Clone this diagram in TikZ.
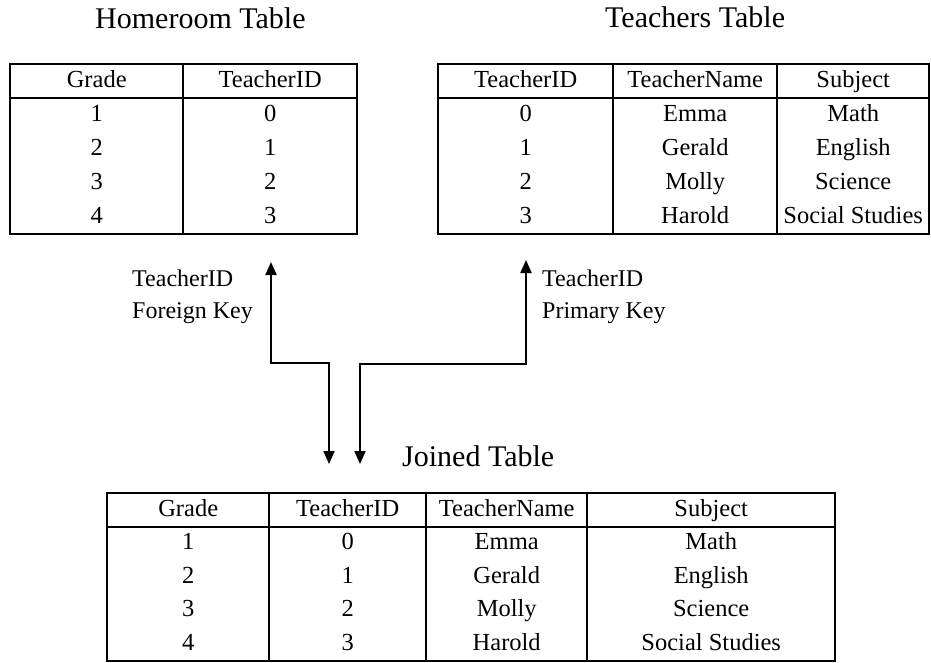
\documentclass[tikz,border=0pt]{standalone}
\usepackage{fontspec}
\setmainfont{Liberation Serif}
\usepackage{tikz}
\usetikzlibrary{arrows.meta,matrix,positioning}

\begin{document}
\begin{tikzpicture}[x=1pt,y=-1pt,>={Triangle[length=13pt,width=11pt]},
		tbl/.style={matrix of nodes, anchor=north west, inner sep=0pt,
			column sep=0pt, row sep=0pt,
			nodes={inner sep=0pt, minimum height=34pt, text height=17pt, text depth=5pt,
				font=\fontsize{24.5}{28}\selectfont}},
		rule/.style={line width=2pt},
		title/.style={anchor=base west, inner sep=0pt, font=\fontsize{30}{36}\selectfont},
		keylabel/.style={anchor=base west, inner sep=0pt, align=left, font=\fontsize{24}{32}\selectfont},
		link/.style={<->, line width=2pt}]
	\useasboundingbox (0,0) rectangle (931,662);

	\matrix (hr) [tbl, at={(10,64)},
			column 1/.style={nodes={minimum width=173pt}},
			column 2/.style={nodes={minimum width=174pt}}] {
		Grade & TeacherID \\
		1 & 0 \\
		2 & 1 \\
		3 & 2 \\
		4 & 3 \\
	};
	\matrix (tt) [tbl, at={(438,64)},
			column 1/.style={nodes={minimum width=175pt}},
			column 2/.style={nodes={minimum width=164pt}},
			column 3/.style={nodes={minimum width=152pt}}] {
		TeacherID & TeacherName & Subject \\
		0 & Emma & Math \\
		1 & Gerald & English \\
		2 & Molly & Science \\
		3 & Harold & Social Studies \\
	};
	\matrix (jt) [tbl, at={(107,493)}, nodes={minimum height=33.6pt},
			column 1/.style={nodes={minimum width=162pt}},
			column 2/.style={nodes={minimum width=157pt}},
			column 3/.style={nodes={minimum width=161pt}},
			column 4/.style={nodes={minimum width=248pt}}] {
		Grade & TeacherID & TeacherName & Subject \\
		1 & 0 & Emma & Math \\
		2 & 1 & Gerald & English \\
		3 & 2 & Molly & Science \\
		4 & 3 & Harold & Social Studies \\
	};

	\draw[rule] (hr.north west) rectangle (hr.south east)
		(hr-1-1.south west) -- (hr-1-2.south east)
		(hr-1-1.north east) -- (hr-5-1.south east);
	\draw[rule] (tt.north west) rectangle (tt.south east)
		(tt-1-1.south west) -- (tt-1-3.south east)
		(tt-1-1.north east) -- (tt-5-1.south east)
		(tt-1-2.north east) -- (tt-5-2.south east);
	\draw[rule] (jt.north west) rectangle (jt.south east)
		(jt-1-1.south west) -- (jt-1-4.south east)
		(jt-1-1.north east) -- (jt-5-1.south east)
		(jt-1-2.north east) -- (jt-5-2.south east)
		(jt-1-3.north east) -- (jt-5-3.south east);

	\node[title] (hrtitle) at (95,28) {Homeroom Table};
	\node[title] (tttitle) at (605,27) {Teachers Table};
	\node[title] (jttitle) at (402,466) {Joined Table};

	\node[keylabel] (fklabel) at (132,318) {TeacherID\\Foreign Key};
	\node[keylabel] (pklabel) at (542,318) {TeacherID\\Primary Key};

	\coordinate (fktop) at (271,262);
	\coordinate (fkbend) at (329,363);
	\coordinate (fkbot) at (329,464);
	\coordinate (pktop) at (526,260);
	\coordinate (pkbend) at (360,364);
	\coordinate (pkbot) at (360,464);

	\draw[link] (fktop) |- (fkbend) -- (fkbot);
	\draw[link] (pktop) |- (pkbend) -- (pkbot);
\end{tikzpicture}
\end{document}
